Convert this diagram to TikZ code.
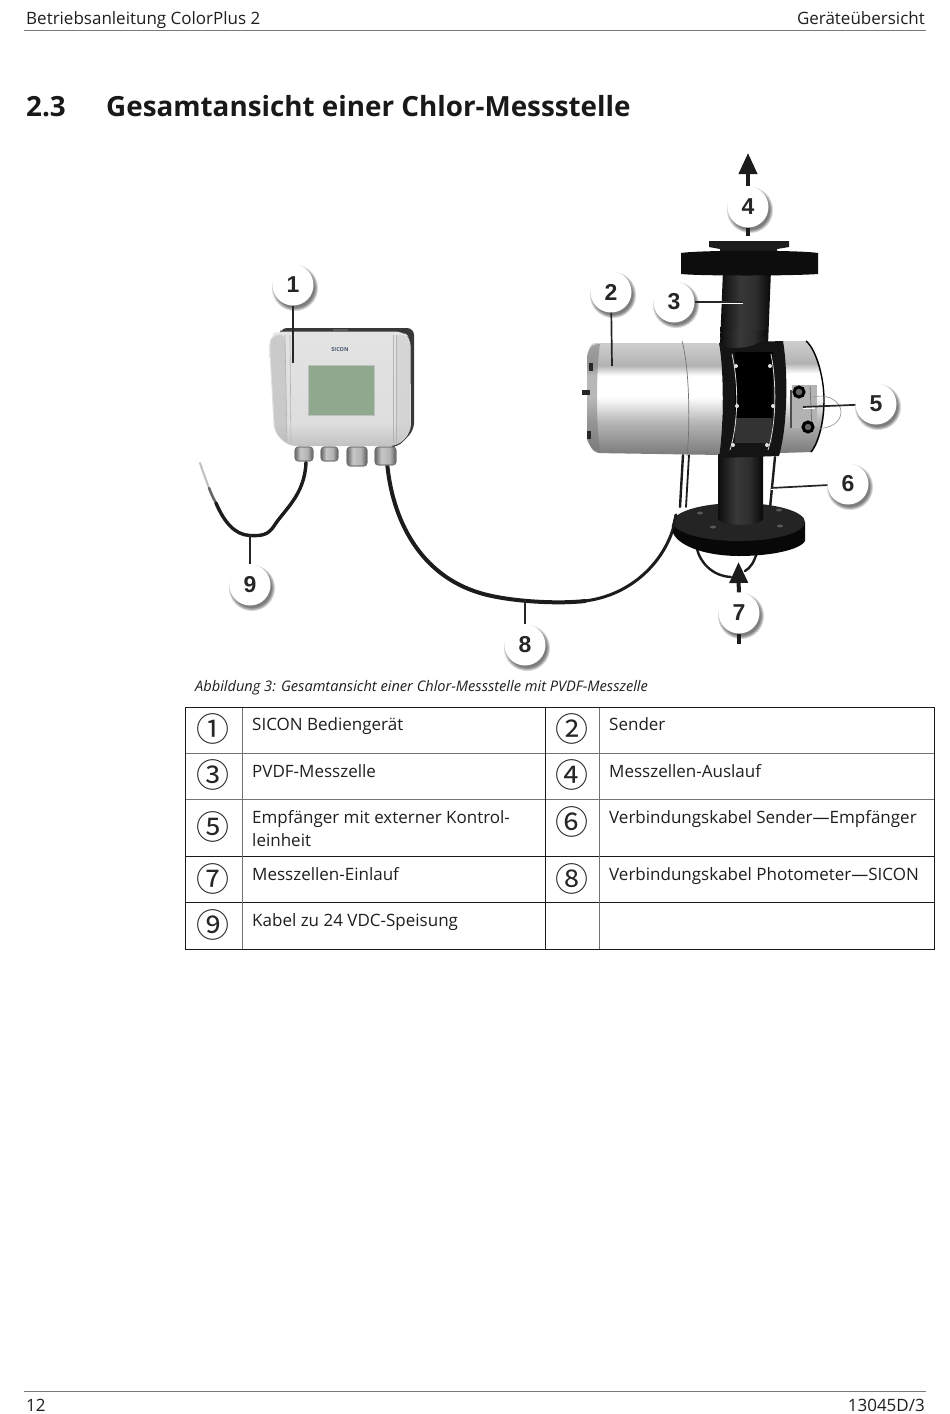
\documentclass[tikz,border=0pt]{standalone}
\usepackage{fontspec}
\setmainfont{Open Sans}
\newfontfamily\circfont{Noto Sans CJK SC}
\newfontfamily\numfont{Liberation Sans}
\usetikzlibrary{arrows.meta}
\pgfdeclareverticalshading{cylgrad}{100bp}{color(0bp)=(black!50); color(25bp)=(black!52); color(40bp)=(black!28); color(47.7bp)=(black!8); color(51bp)=(white); color(60.5bp)=(white); color(65bp)=(black!30); color(74bp)=(black!20); color(100bp)=(black!20)}
\pgfdeclarehorizontalshading{pipegrad}{100bp}{color(0bp)=(black); color(25bp)=(black!95); color(45bp)=(black!78); color(60bp)=(black!82); color(75bp)=(black!97); color(100bp)=(black)}
\pgfdeclareverticalshading{boxgrad}{100bp}{color(0bp)=(black!24); color(25bp)=(black!24); color(35bp)=(black!13); color(75bp)=(black!11); color(100bp)=(black!11)}
\pgfdeclarehorizontalshading{glandgrad}{100bp}{color(0bp)=(black!60); color(25bp)=(black!60); color(40bp)=(black!22); color(60bp)=(black!30); color(75bp)=(black!65); color(100bp)=(black!65)}
\definecolor{dk}{HTML}{1C1C1C}
\definecolor{rulegray}{HTML}{7A7A7A}
\definecolor{lcd}{HTML}{8FA98F}
\definecolor{sicblue}{HTML}{46566E}
\tikzset{
  x=1pt,y=-1pt,
  txt/.style={anchor=base west,inner sep=0pt,font=\fontsize{17}{20}\selectfont,text=black!88},
  txtr/.style={anchor=base east,inner sep=0pt,font=\fontsize{17}{20}\selectfont,text=black!88},
  callout/.style={circle,fill=white,inner sep=0pt,minimum size=41pt,font=\numfont\bfseries\fontsize{23}{23}\selectfont,text=black!85},
  leader/.style={draw=black!85,line width=1.7pt},
  cable/.style={draw=dk,line width=3.4pt,line cap=round},
  thincable/.style={draw=dk,line width=2.4pt,line cap=round},
  flow/.style={draw=dk,line width=4pt},
  circnum/.style={inner sep=0pt,font=\circfont\fontsize{33}{33}\selectfont,text=black!85},
  gridline/.style={draw=black!55,line width=.8pt},
  gridstrong/.style={draw=black!90,line width=1pt},
  gland/.style={draw=black!55,line width=.6pt,shading=glandgrad,rounded corners=3pt},
  bolt/.style={circle,fill=black!12,inner sep=0pt,minimum size=4pt},
}
\newcommand{\callshadow}[2]{\foreach \r in {23,22,21,20}{\fill[black,opacity=.16] (#1+2,#2+3) circle (\r);}}
\begin{document}
\begin{tikzpicture}
\useasboundingbox (0,0) rectangle (950,1414);
\fill[white] (0,0) rectangle (950,1414);
% page header
\node[txt] (hl) at (26,24) {Betriebsanleitung ColorPlus 2};
\node[txtr] (hr) at (925,24) {Geräteübersicht};
\coordinate (ha) at (24,30.5); \coordinate (hb) at (926,30.5);
\draw[draw=rulegray,line width=1pt] (ha) -- (hb);
\node[anchor=base west,inner sep=0pt,font=\bfseries\fontsize{27.8}{32}\selectfont,text=black!90] (hn) at (26,116) {2.3};
\node[anchor=base west,inner sep=0pt,font=\bfseries\fontsize{27.8}{32}\selectfont,text=black!90] (ht) at (106,116) {Gesamtansicht einer Chlor-Messstelle};
% footer
\coordinate (fa) at (24,1391.5); \coordinate (fb) at (926,1391.5);
\draw[draw=rulegray,line width=1pt] (fa) -- (fb);
\node[txt] (fl) at (26,1411) {12};
\node[txtr] (fr) at (925,1411) {13045D/3};

% cables of SICON
\draw[draw=black!25,line width=2pt,line cap=round] (200,463) .. controls (203,472) and (206,480) .. (209,488);
\draw[draw=black!60,line width=2.6pt,line cap=round] (209,488) .. controls (211,493) and (213,498) .. (216,503);
\draw[cable] (216,503) .. controls (224,522) and (235,535) .. (250,535.5) .. controls (262,536) and (268,535) .. (274,526) .. controls (284,510) and (305,495) .. (306,462);
\draw[cable,line width=4pt] (387,462) .. controls (392,520) and (420,575) .. (480,593) .. controls (510,602) and (560,604) .. (585,601);
\draw[cable,line width=3pt] (585,601) .. controls (640,594) and (672,550) .. (676,515);
% SICON box
\fill[black!78,rounded corners=7pt] (280,328) -- (414,328) -- (414,430) -- (398,447) -- (388,447) -- (388,336) -- (280,336) -- cycle;
\shade[shading=boxgrad,rounded corners=8pt] (269,345) -- (271,335) -- (277,331.5) -- (403,331.5) -- (410.5,338) -- (411,432) -- (398,446) -- (288,446) -- (274,432) -- cycle;
\fill[black!28,opacity=.55,rounded corners=6pt] (270,345) -- (272,336) -- (285,334) -- (287,444) -- (275,431) -- cycle;
\fill[black!20,opacity=.55,rounded corners=4pt] (396,334) -- (407,336) -- (410,340) -- (410,431) -- (396,444) -- cycle;
\draw[black!30,line width=.6pt] (285,335) -- (287,442);
\draw[black!30,line width=.6pt] (290,335) -- (291,443);
\draw[black!30,line width=.6pt] (393,335) -- (393,443);
\draw[black!30,line width=.6pt] (396,335) -- (396,443);
\fill[black!65] (333,329) rectangle (348,331);
\filldraw[fill=lcd,draw=black!25,line width=.5pt] (308,365) rectangle (374,415);
\node[inner sep=0pt,font=\bfseries\fontsize{5.5}{6}\selectfont,text=sicblue] (sic) at (340,350) {SICON};
\path[gland] (295,447) rectangle (313,461);
\draw[black!55,line width=.6pt,rounded corners=3pt] (295,447) rectangle (313,461);
\path[gland] (321,447) rectangle (338,461);
\draw[black!55,line width=.6pt,rounded corners=3pt] (321,447) rectangle (338,461);
\path[gland] (347,447) rectangle (367,466);
\draw[black!55,line width=.6pt,rounded corners=3pt] (347,447) rectangle (367,466);
\path[gland] (375,447) rectangle (396,465);
\draw[black!55,line width=.6pt,rounded corners=3pt] (375,447) rectangle (396,465);

% photometer rear/left cables
\draw[thincable] (683,455) -- (680,507);
\draw[thincable,line width=1.8pt] (689,455) -- (686,507);
\draw[thincable] (775,457) -- (770,508);
% loop beneath flange
\draw[thincable] (697,549) .. controls (700,562) and (712,576) .. (731,577);
\draw[thincable] (757,552) .. controls (754,563) and (750,568) .. (745,571);
% lower flange
\fill[black!97] (673,520) -- (673,533) .. controls (680,548) and (710,556) .. (739,556) .. controls (770,556) and (800,550) .. (805,541) -- (805,522) -- cycle;
\fill[black!86] (739,522) ellipse [x radius=66,y radius=19];
\foreach \bx/\by in {700/513, 713/527, 779/510, 780/526}{\fill[black!65] (\bx,\by) ellipse [x radius=3,y radius=1.5];}
\shade[shading=pipegrad] (718,450) -- (763,450) -- (763,518) .. controls (763,527) and (718,527) .. (718,518) -- cycle;
\draw[cable,line width=2.8pt] (676,515) -- (673,527);

% upper pipe and flanges
\shade[shading=pipegrad] (723,270) -- (771,270) -- (768,345) -- (720,345) -- cycle;
\fill[dk] (709,241) -- (789,241) -- (789,247) -- (777,249) -- (777,254) -- (720,254) -- (720,249) -- (709,247) -- cycle;
\fill[black!95] (681,253) .. controls (700,250) and (800,250) .. (818,253) -- (818,274) .. controls (790,276) and (700,276) .. (681,274) -- cycle;

% sender
\shade[shading=cylgrad,rounded corners=6pt] (722,343) -- (590,343) -- (587,360) -- (587,440) -- (594,453) -- (722,455) -- cycle;
\draw[black!55,line width=.7pt] (682,341) .. controls (690,370) and (690,430) .. (687,456);
\fill[black!55,opacity=.5] (587,355) .. controls (590,345) and (595,344) .. (600,344) .. controls (596,370) and (596,425) .. (600,451) .. controls (594,450) and (589,446) .. (587,440) -- cycle;
\fill[black!85] (589,363) rectangle (593,371);
\fill[black!85] (582,390) rectangle (590,395);
\fill[black!85] (587,431) rectangle (591,439);
% receiver
\shade[shading=cylgrad] (780,341) -- (806,341) .. controls (815,345) and (825,375) .. (825,400) .. controls (825,425) and (818,445) .. (812,452) -- (780,453) -- cycle;
\draw[black,line width=1.4pt] (806,341) .. controls (815,348) and (824,375) .. (824,400) .. controls (824,425) and (817,445) .. (811,452);
% collar
\fill[black!92] (719,343) -- (783,341) .. controls (788,370) and (788,425) .. (779,456) -- (719,458) .. controls (724,425) and (724,370) .. (719,343) -- cycle;
\fill[black] (735,352) -- (773,352) -- (772,418) -- (735,418) -- cycle;
\fill[black!80] (735,418) -- (772,418) -- (772,443) -- (735,443) -- cycle;
\draw[black!15,line width=.8pt] (732,354) .. controls (739,385) and (738,425) .. (730,450);
\draw[black!15,line width=.8pt] (771,354) .. controls (777,385) and (776,425) .. (768,450);
\foreach \bx/\by in {736/366, 737/406, 733/445, 770/366, 773/406, 767/445}{\node[bolt] at (\bx,\by) {};}
\shade[shading=pipegrad] (720,330) -- (768,330) .. controls (765,345) and (745,350) .. (725,347) -- cycle;
% receiver control unit
\fill[black!30] (792,385) rectangle (817,428);
\draw[black!70,line width=1.2pt] (791,390) -- (791,428);
\draw[black!40,line width=.7pt] (813,397) .. controls (830,393) and (841,403) .. (841,412) .. controls (841,422) and (830,430) .. (815,428);
\draw[black!55,line width=.8pt] (810,386) -- (812,428);
\filldraw[fill=black!60,draw=black,line width=3pt] (799,392) circle (5);
\filldraw[fill=black!60,draw=black,line width=3pt] (808,427) circle (5);

% leader targets
\coordinate (t4) at (748,153);
\coordinate (t7) at (738.5,562);
\coordinate (t1) at (293,363);
\coordinate (t2) at (612,366);
\coordinate (t3) at (743,302);
\coordinate (t5) at (803,407);
\coordinate (t6) at (771,488);
\coordinate (t8) at (525,600);
\coordinate (t9) at (250,535);
\coordinate (s4) at (748,236);
\coordinate (s7) at (739,644);

\callshadow{293}{285}\callshadow{611}{292}\callshadow{674}{302}\callshadow{748}{207}\callshadow{876}{404}\callshadow{848}{484}\callshadow{739}{613}\callshadow{525}{645}\callshadow{250}{585}
\node[callout] (c1) at (293,285) {1};
\node[callout] (c2) at (611,292) {2};
\node[callout] (c3) at (674,302) {3};
\node[callout] (c4) at (748,207) {4};
\node[callout] (c5) at (876,404) {5};
\node[callout] (c6) at (848,484) {6};
\node[callout] (c7) at (739,613) {7};
\node[callout] (c8) at (525,645) {8};
\node[callout] (c9) at (250,585) {9};

\draw[leader] (c1) -- (t1);
\draw[leader] (c2) -- (t2);
\draw[draw=white,line width=3pt] (710,302) -- (t3);
\draw[leader,line width=1.4pt] (c3) -- (t3);
\draw[draw=white,line width=3pt] (815,407) -- (t5);
\draw[leader] (c5) -- (t5);
\draw[draw=white,line width=3pt] (790,488) -- (t6);
\draw[leader] (c6) -- (t6);
\draw[leader] (c8) -- (t8);
\draw[leader] (c9) -- (t9);
\draw[flow,-{Triangle[width=18pt,length=21pt]}] (c4) -- (t4);
\draw[flow] (c4) -- (s4);
\draw[flow,-{Triangle[width=18pt,length=21pt]}] (c7) -- (t7);
\draw[flow] (c7) -- (s7);

% caption
\node[anchor=base west,inner sep=0pt,font=\itshape\fontsize{14.6}{17}\selectfont,text=black!88] (cap) at (195,691) {Abbildung 3: Gesamtansicht einer Chlor-Messstelle mit PVDF-Messzelle};

% table
\draw[gridline] (185,753) -- (934,753);
\draw[gridline] (185,799.5) -- (934,799.5);
\draw[gridstrong] (185,856.5) -- (934,856.5);
\draw[gridstrong] (185,902.5) -- (934,902.5);
\draw[gridline] (242,707) -- (242,949);
\draw[gridline] (599,707) -- (599,949);
\draw[gridstrong] (545,707) -- (545,949);
\draw[gridstrong] (185,707) rectangle (934,949);

\node[circnum] (n1) at (213,729) {①};
\node[circnum] (n2) at (572,729) {②};
\node[circnum] (n3) at (213,775) {③};
\node[circnum] (n4) at (572,775) {④};
\node[circnum] (n5) at (213,827) {⑤};
\node[circnum] (n6) at (572,822) {⑥};
\node[circnum] (n7) at (213,879) {⑦};
\node[circnum] (n8) at (572,879) {⑧};
\node[circnum] (n9) at (213,925) {⑨};

\node[txt] (e1) at (252,730) {SICON Bediengerät};
\node[txt] (e2) at (609,730) {Sender};
\node[txt] (e3) at (252,777) {PVDF-Messzelle};
\node[txt] (e4) at (609,777) {Messzellen-Auslauf};
\node[txt] (e5) at (252,823) {Empfänger mit externer Kontrol-};
\node[txt] (e5b) at (252,846) {leinheit};
\node[txt] (e6) at (609,823) {Verbindungskabel Sender—Empfänger};
\node[txt] (e7) at (252,880) {Messzellen-Einlauf};
\node[txt] (e8) at (609,880) {Verbindungskabel Photometer—SICON};
\node[txt] (e9) at (252,926) {Kabel zu 24 VDC-Speisung};
\end{tikzpicture}
\end{document}
